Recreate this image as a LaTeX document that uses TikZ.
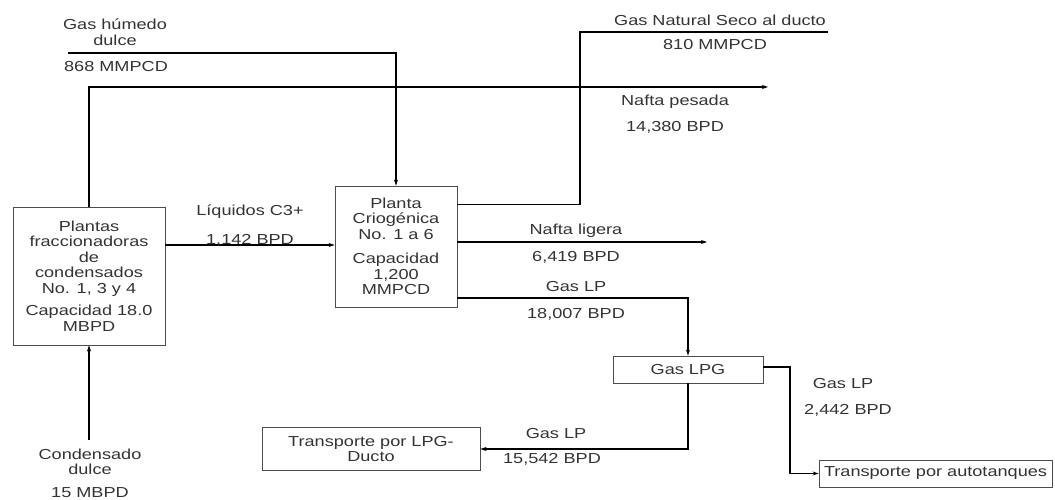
\documentclass[tikz,border=0pt]{standalone}
\usepackage{fontspec}
\setmainfont{Liberation Sans}[FakeStretch=1.25]
\usetikzlibrary{arrows.meta}
\begin{document}
\begin{tikzpicture}[x=1pt,y=-1pt,
  every node/.style={font=\fontsize{14.5}{15.5}\selectfont, text=black!80},
  box/.style={draw=black!70, line width=0.9pt, align=center, inner sep=0pt},
  lbl/.style={inner sep=0pt, align=center},
  flow/.style={draw=black, line width=1.3pt},
  arr/.style={flow, -{Stealth[length=6pt,width=4pt]}}]
\useasboundingbox (0,0) rectangle (1055,500);
% boxes
\node[box, minimum width=152pt, minimum height=138pt] (A) at (89,276)
  {Plantas\\fraccionadoras\\de\\condensados\\No. 1, 3 y 4\\[7pt]Capacidad 18.0\\MBPD};
\node[box, minimum width=122pt, minimum height=121pt] (B) at (396,246.5)
  {Planta\\Criogénica\\No. 1 a 6\\[9pt]Capacidad\\1,200\\MMPCD};
\node[box, minimum width=150pt, minimum height=27pt] (C) at (688,369.5) {Gas LPG};
\node[box, minimum width=218pt, minimum height=43pt] (D) at (371,449) {Transporte por LPG-\\Ducto};
\node[box, minimum width=233pt, minimum height=27pt] (E) at (935.5,473.5) {Transporte por autotanques};
% coordinates
\coordinate (gh) at (68,53);
\coordinate (np) at (768,87);
\coordinate (gnsk) at (580,32);
\coordinate (gns) at (828,32);
\coordinate (lq) at (250,245);
\coordinate (nl) at (707,242);
\coordinate (lp1) at (600,298);
\coordinate (k790) at (790,420);
\coordinate (cd) at (89,440);
% connectors
\draw[arr] (gh) -| (B.north);
\draw[arr] (A.north) |- (np);
\draw[flow] ([yshift=-19pt]B.north east) -| (gnsk) -- (gns);
\draw[arr] (A.east |- lq) -- (B.west |- lq);
\draw[arr] (B.east |- nl) -- (nl);
\draw[arr] (B.east |- lp1) -| (C.north);
\draw[arr] (C.south) |- (D.east);
\draw[arr] ([yshift=2.5pt]C.east) -| (k790) |- (E.west);
\draw[arr] (cd) -- (A.south);
% labels
\node[lbl] (t1) at (115,32) {Gas húmedo\\dulce};
\node[lbl] (t2) at (116,67) {868 MMPCD};
\node[lbl] (t3) at (720,20) {Gas Natural Seco al ducto};
\node[lbl] (t4) at (715,45) {810 MMPCD};
\node[lbl] (t5) at (675,102) {Nafta pesada};
\node[lbl] (t6) at (675,127) {14,380 BPD};
\node[lbl] (t7) at (250,212) {Líquidos C3+};
\node[lbl] (t8) at (250,240) {1,142 BPD};
\node[lbl] (t9) at (576,231) {Nafta ligera};
\node[lbl] (t10) at (576,257) {6,419 BPD};
\node[lbl] (t11) at (576,287) {Gas LP};
\node[lbl] (t12) at (576,314) {18,007 BPD};
\node[lbl] (t13) at (843,384) {Gas LP};
\node[lbl] (t14) at (848,410) {2,442 BPD};
\node[lbl] (t15) at (556,434) {Gas LP};
\node[lbl] (t16) at (552,459) {15,542 BPD};
\node[lbl] (t17) at (90,462) {Condensado\\dulce};
\node[lbl] (t18) at (90,493) {15 MBPD};
\end{tikzpicture}
\end{document}
